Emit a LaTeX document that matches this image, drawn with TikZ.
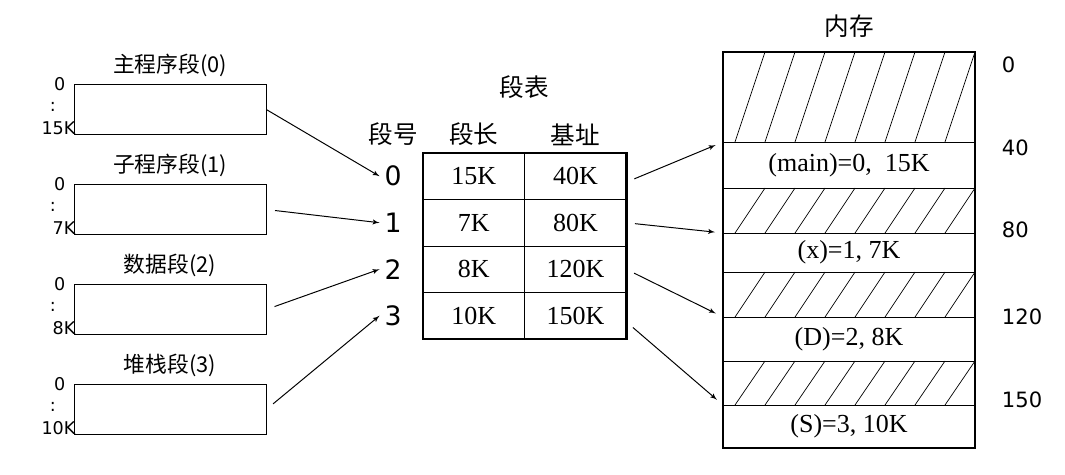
\documentclass[tikz,border=0pt]{standalone}
\usepackage{fontspec}
\setmainfont{Liberation Serif}
\newfontfamily\cjk{Noto Sans CJK SC}
\newfontfamily\numfont{DejaVu Sans}
\usepackage{tikz}
\usetikzlibrary{shapes,arrows,positioning,calc}
\tikzset{
segbox/.style = {draw, rectangle, minimum width=4.8cm, minimum height=1.25cm, inner sep=0pt},
segtitle/.style = {font=\cjk\fontsize{15.5}{17}\selectfont},
tick/.style = {font=\numfont\fontsize{12.5}{14}\selectfont, inner sep=0pt},
segno/.style = {font=\numfont\fontsize{19}{21}\selectfont},
head/.style = {font=\cjk\fontsize{17.5}{19}\selectfont},
cell/.style = {draw, rectangle, minimum width=2.54cm, minimum height=1.1625cm, inner sep=0pt, outer sep=0pt, font=\fontsize{18.5}{20}\selectfont},
memblk/.style = {draw, rectangle, minimum width=6.3cm, inner sep=0pt, outer sep=0pt, font=\fontsize{18.5}{20}\selectfont},
hatched/.style = {path picture={
  \foreach \k in {0,...,7}
    \draw[line width=0.5pt] ($(path picture bounding box.south west)+(0.3+0.75*\k,0)$) -- ($(path picture bounding box.north west)+(1.05+0.75*\k,0)$);
  }},
addr/.style = {font=\numfont\fontsize{15}{17}\selectfont, anchor=west},
link/.style = {->, line width=0.7pt}
}

\begin{document}
\begin{tikzpicture}[node distance=0pt, >=latex']
  \useasboundingbox (0,0) rectangle (26.625,11.875);

  % program segments
  \foreach \t/\len [count=\i from 0] in {主程序段/15K, 子程序段/7K, 数据段/8K, 堆栈段/10K} {
    \node [segbox] (seg\i) at (4.25,9.1375-2.5*\i) {};
    \node [segtitle, above=0.5mm of seg\i] (title\i) {\t(\i)};
    \node [tick] (top\i) at ($(seg\i.north west)+(-0.35,0)$) {0};
    \node [tick] (dots\i) at ($(seg\i.west)+(-0.52,0.07)$) {:};
    \node [tick, anchor=east] (end\i) at ($(seg\i.south west)+(0.05,0.17)$) {\len};
  }

  % segment table
  \node [head] (tabtitle) at (13.1,9.7) {段表};
  \foreach \len/\base [count=\r from 0] in {15K/40K, 7K/80K, 8K/120K, 10K/150K} {
    \node [cell] (l\r) at (11.845,7.46875-1.1625*\r) {\len};
    \node [cell] (b\r) at (14.385,7.46875-1.1625*\r) {\base};
    \node [segno] (n\r) at (9.825,7.46875-1.1625*\r) {\r};
  }
  \draw [line width=2pt] (l0.north west) rectangle (b3.south east);
  \node [head, above=0.5mm of l0] (hlen) {段长};
  \node [head, above=0.5mm of b0] (hbase) {基址};
  \node [head, anchor=south, yshift=0.5mm] (hno) at (l0.north -| n0) {段号};

  % memory
  \node [memblk, hatched, minimum height=2.25cm] (m0) at (21.225,9.45) {};
  \node [memblk, minimum height=1.15cm, below=of m0] (m1) {(main)=0, \ 15K};
  \node [memblk, hatched, minimum height=1.125cm, below=of m1] (m2) {};
  \node [memblk, minimum height=0.975cm, below=of m2] (m3) {(x)=1, 7K};
  \node [memblk, hatched, minimum height=1.125cm, below=of m3] (m4) {};
  \node [memblk, minimum height=1.1cm, below=of m4] (m5) {(D)=2, 8K};
  \node [memblk, hatched, minimum height=1.1cm, below=of m5] (m6) {};
  \node [memblk, minimum height=1.075cm, below=of m6] (m7) {(S)=3, 10K};
  \draw [line width=2pt] (m0.north west) rectangle (m7.south east);
  \node [head, above=2.5mm of m0] (memtitle) {内存};

  \foreach \a/\y in {0/10.25, 40/8.175, 80/6.125, 120/3.95, 150/1.875}
    \node [addr] (addr\a) at (24.925,\y) {\a};

  % segment -> segment number
  \draw [link] (seg0.east) -- (n0.west);
  \draw [link, shorten <=0.22cm] (seg1.east) -- (n1.west);
  \draw [link, shorten <=0.22cm] (seg2.east) -- (n2.west);
  \draw [link, shorten <=0.22cm] (seg3.east) -- (n3.west);

  % base -> memory
  \draw [link, shorten <=0.22cm, shorten >=0.2cm] ($(b0.east)+(0,-0.15)$) -- (m1.north west);
  \draw [link, shorten <=0.22cm, shorten >=0.2cm] (b1.east) -- (m3.north west);
  \draw [link, shorten <=0.22cm, shorten >=0.2cm] (b2.east) -- (m5.north west);
  \draw [link, shorten <=0.22cm, shorten >=0.2cm] ($(b3.east)+(0,-0.15)$) -- (m7.north west);
\end{tikzpicture}
\end{document}
